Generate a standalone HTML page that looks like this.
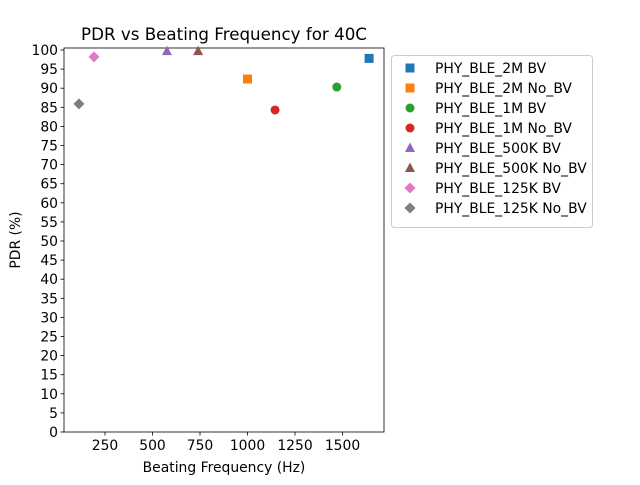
<!DOCTYPE html>
<html><head><meta charset="utf-8"><style>
body{margin:0;background:#fff;}
svg text{font-family:"DejaVu Sans","Liberation Sans",sans-serif;fill:#000;}
</style></head><body>
<svg id="c" width="640" height="480" xmlns="http://www.w3.org/2000/svg"></svg>
<script>
const seriesNames=["PHY_BLE_2M BV","PHY_BLE_2M No_BV","PHY_BLE_1M BV","PHY_BLE_1M No_BV","PHY_BLE_500K BV","PHY_BLE_500K No_BV","PHY_BLE_125K BV","PHY_BLE_125K No_BV"];
const freqValues=[1640,1000,1470,1145,576,740,192,113];
const pdrValues=[97.8,92.4,90.3,84.3,99.7,99.7,98.2,85.9];
const xTicks=[250,500,750,1000,1250,1500];
const yTicks=[0,5,10,15,20,25,30,35,40,45,50,55,60,65,70,75,80,85,90,95,100];
const colors=["#1f77b4","#ff7f0e","#2ca02c","#d62728","#9467bd","#8c564b","#e377c2","#7f7f7f"];
const markers=["s","s","o","o","^","^","D","D"];
const svg=document.getElementById('c');
const NS="http://www.w3.org/2000/svg";
const L=64,R=384,T=48,B=432;
const xs=v=>57.5+v*0.19;
const ys=v=>432-v*3.82;
function mk(tag,attrs,parent){const e=document.createElementNS(NS,tag);for(const k in attrs)e.setAttribute(k,attrs[k]);(parent||svg).appendChild(e);return e;}
function marker(type,x,y,col,s,parent){
  if(type==="s")return mk('rect',{x:x-4.5,y:y-4.5,width:9,height:9,fill:col},parent);
  if(type==="o")return mk('circle',{cx:x,cy:y,r:4.5,fill:col},parent);
  if(type==="^")return mk('polygon',{points:`${x},${y-5.5} ${x+5},${y+4} ${x-5},${y+4}`,fill:col},parent);
  return mk('polygon',{points:`${x},${y-5.5} ${x+5.5},${y} ${x},${y+5.5} ${x-5.5},${y}`,fill:col},parent);
}
const frame=mk('rect',{x:L,y:T,width:R-L,height:B-T,fill:'none',stroke:'#000','stroke-width':0.8});


xTicks.forEach(t=>{
  const x=xs(t);
  const ln=mk('line',{x1:x,x2:x,y1:B,y2:B+3.5,stroke:'#000','stroke-width':0.8});
  
  
  const tx=mk('text',{x:x,y:B+18,'text-anchor':'middle','font-size':13.9});
  tx.textContent=t;
  
  
});
yTicks.forEach(t=>{
  const y=ys(t);
  const ln=mk('line',{x1:L-3.5,x2:L,y1:y,y2:y,stroke:'#000','stroke-width':0.8});
  
  
  const tx=mk('text',{x:L-6,y:y+5,'text-anchor':'end','font-size':13.9});
  tx.textContent=t;
  
  
});
seriesNames.forEach((n,i)=>{
  const m=marker(markers[i],xs(freqValues[i]),ys(pdrValues[i]),colors[i]);
  
  
});
const title=mk('text',{x:224,y:40,'text-anchor':'middle','font-size':16.7});
title.textContent="PDR vs Beating Frequency for 40C";


const xl=mk('text',{x:224,y:472,'text-anchor':'middle','font-size':13.9});
xl.textContent="Beating Frequency (Hz)";


const yl=mk('text',{x:0,y:0,'text-anchor':'middle','font-size':13.9,transform:'translate(20,240) rotate(-90)'});
yl.textContent="PDR (%)";


const lg=mk('g',{});


mk('rect',{x:391.5,y:55.5,width:201,height:172,rx:3,fill:'#fff',stroke:'#ccc','stroke-width':1},lg);
seriesNames.forEach((n,i)=>{
  const y=68+i*20;
  const g=mk('g',{},lg);
  
  
  marker(markers[i],410,y,colors[i],0,g);
  const t=mk('text',{x:435,y:y+5,'font-size':13.9},g);
  t.textContent=n;
});
</script>
</body></html>
